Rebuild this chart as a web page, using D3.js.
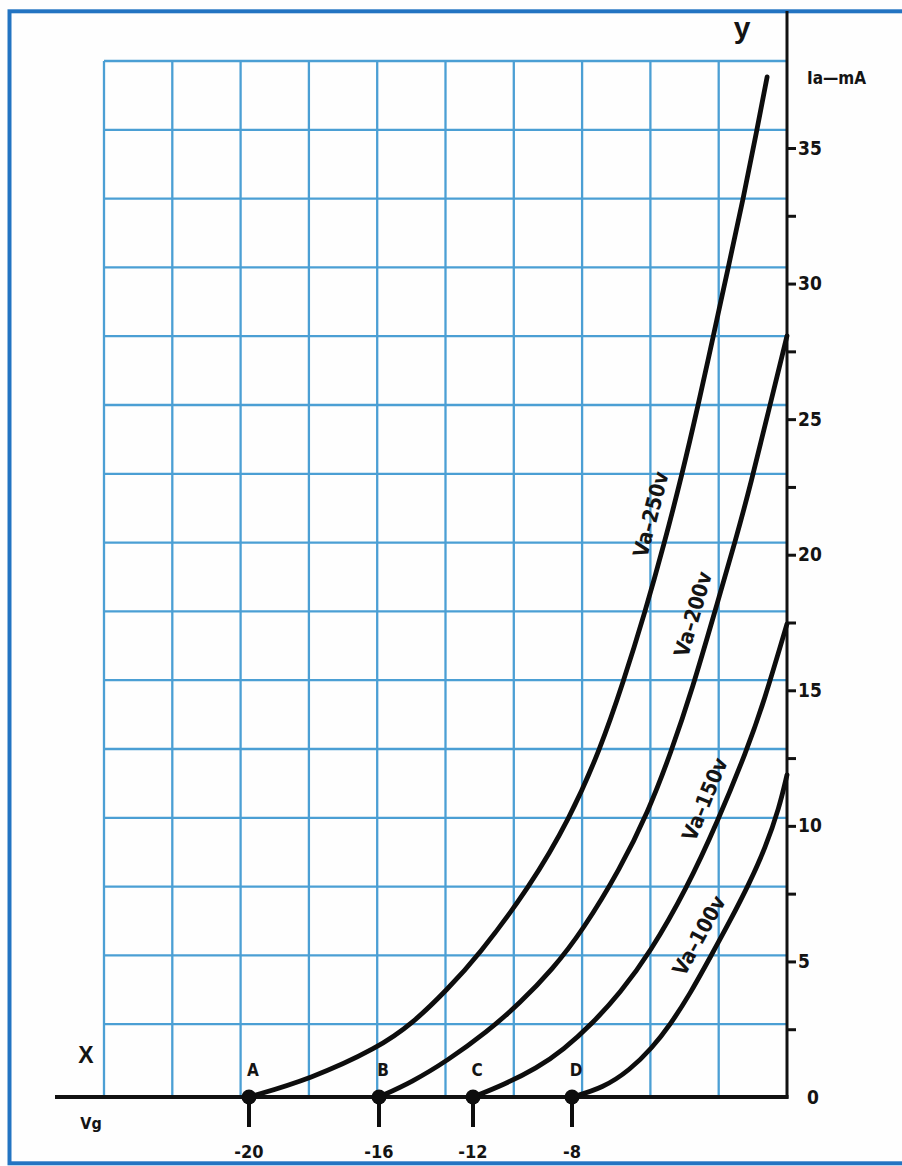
<!DOCTYPE html>
<html>
<head>
<meta charset="utf-8">
<script src="https://cdn.jsdelivr.net/npm/d3@7"></script>
<style>
  html, body { margin: 0; padding: 0; background: #ffffff; }
  svg { display: block; }
  text {
    font-family: 'Liberation Sans Narrow', 'DejaVu Sans Condensed', 'Arial Narrow', sans-serif;
    font-weight: bold;
    fill: #141414;
  }
</style>
</head>
<body>
<svg id="chart" width="902" height="1166"></svg>
<script>
// Grid-bias cut-off points on the Vg axis
const cutoffVg = [-20, -16, -12, -8];
const cutoffLetters = ["A", "B", "C", "D"];
const vgTickLabels = ["-20", "-16", "-12", "-8"];

// Anode-current scale (mA)
const iaMajorTicks = [0, 5, 10, 15, 20, 25, 30, 35];
const iaMinorTicks = [2.5, 7.5, 12.5, 17.5, 22.5, 27.5, 32.5];

// Ia / Vg characteristics, one per anode voltage
const anodeVoltages = [250, 200, 150, 100];
const curveLabels = ["Va–250v", "Va–200v", "Va–150v", "Va–100v"];

const vg250 = [-20, -18.12, -16.03, -14.55, -13.11, -11.8, -9.7, -8.08, -6.96, -6.1, -5.28, -4.58, -3.91, -3.31, -2.75, -2.19, -1.63, -1.12, -0.74];
const ia250 = [0, 0.66, 1.81, 2.73, 3.95, 5.2, 7.75, 10.29, 12.8, 15.27, 17.89, 20.36, 22.94, 25.49, 28.03, 30.58, 33.12, 35.66, 37.62];

const vg200 = [-16, -14.6, -13.11, -11.43, -10.1, -8.81, -7.59, -6.21, -5.17, -4.32, -3.5, -2.72, -1.9, -1.34, -0.67, 0];
const ia200 = [0, 0.55, 1.33, 2.4, 3.47, 4.68, 6.16, 8.41, 10.51, 12.69, 15.12, 17.78, 20.58, 22.64, 25.37, 28.07];

const vg150 = [-12, -10.79, -9.41, -8.36, -7.22, -6.21, -5.1, -3.72, -2.6, -1.49, -0.86, 0];
const ia150 = [0, 0.44, 1.07, 1.73, 2.73, 3.84, 5.31, 7.71, 10.11, 12.8, 14.57, 17.45];

const vg100 = [-8, -6.85, -5.84, -5.02, -4.35, -3.61, -2.87, -2.12, -1.41, -0.81, -0.29, 0];
const ia100 = [0, 0.33, 1.0, 1.81, 2.66, 3.8, 5.13, 6.49, 7.86, 9.18, 10.66, 11.88];

// Current level along each curve where its label sits
const labelLevels = [21.3, 17.6, 10.7, 5.6];

const seriesVg = [vg250, vg200, vg150, vg100];
const seriesIa = [ia250, ia200, ia150, ia100];

const svg = d3.select("#chart");

// Paper background and blue frame
svg.append("rect").attr("width", 902).attr("height", 1166).attr("fill", "#fefefe");
svg.append("rect")
  .attr("x", 9.5).attr("y", 11.3).attr("width", 1000).attr("height", 1152)
  .attr("fill", "none").attr("stroke", "#2374c2").attr("stroke-width", 4);

// Graph-paper grid: 10 columns x 15 rows
const gx = d3.scaleLinear().domain([0, 10]).range([104, 787]);
const gy = d3.scaleLinear().domain([0, 15]).range([61, 1093]);
const grid = svg.append("g").attr("stroke", "#4b9fd4").attr("stroke-width", 2.3);
grid.selectAll("line.v").data(d3.range(0, 10)).join("line")
  .attr("class", "v")
  .attr("x1", d => gx(d)).attr("x2", d => gx(d))
  .attr("y1", gy(0)).attr("y2", 1097);
grid.selectAll("line.h").data(d3.range(0, 15)).join("line")
  .attr("class", "h")
  .attr("x1", gx(0)).attr("x2", gx(10))
  .attr("y1", d => gy(d)).attr("y2", d => gy(d));

// Data scales: the Vg axis is hand-spaced between the marked bias points
const x = d3.scaleLinear().domain([-20, -16, -12, -8, 0]).range([249, 379, 473, 572, 787]);
const y = d3.scaleLinear().domain([0, 35]).range([1097, 148]);

// Ia axis (right-hand scale)
const yAxis = d3.axisRight(y)
  .tickValues(iaMajorTicks.concat(iaMinorTicks))
  .tickSize(9)
  .tickPadding(2)
  .tickFormat(d => iaMajorTicks.includes(d) && d !== 0 ? d : "");
const yAxisG = svg.append("g").attr("transform", `translate(${x(0)},0)`).call(yAxis);
yAxisG.select(".domain").remove();
yAxisG.selectAll(".tick line").attr("stroke", "#111").attr("stroke-width", 3);
yAxisG.selectAll(".tick").filter(d => d === 0).select("line").remove();
yAxisG.selectAll(".tick text")
  .attr("font-size", 19).attr("fill", "#141414")
  .attr("font-family", null);

// zero label of the Ia scale sits a little further right
svg.append("text")
  .attr("x", x(0) + 20).attr("y", y(0)).attr("dy", "0.35em")
  .attr("text-anchor", "start").attr("font-size", 19)
  .text("0");

// Ia axis line and Vg axis line
svg.append("line")
  .attr("x1", x(0)).attr("x2", x(0))
  .attr("y1", 11).attr("y2", y(0) + 1.5)
  .attr("stroke", "#111").attr("stroke-width", 3);
svg.append("line")
  .attr("x1", 55).attr("x2", x(0) + 1.5)
  .attr("y1", y(0)).attr("y2", y(0))
  .attr("stroke", "#111").attr("stroke-width", 3.8);

svg.append("text")
  .attr("x", x(0) + 20).attr("y", 78).attr("dy", "0.35em")
  .attr("font-size", 17).text("Ia—mA");
svg.append("text")
  .attr("x", 742).attr("y", 38).attr("text-anchor", "middle")
  .attr("font-size", 30).attr("font-weight", "normal")
  .style("font-family", "'Liberation Sans', 'DejaVu Sans', sans-serif")
  .text("y");
svg.append("text")
  .attr("x", 86).attr("y", 1063).attr("text-anchor", "middle")
  .attr("font-size", 23)
  .style("font-family", "'Liberation Sans', 'DejaVu Sans', sans-serif")
  .text("X");
svg.append("text")
  .attr("x", 91).attr("y", 1129).attr("text-anchor", "middle")
  .attr("font-size", 16).text("Vg");

// Characteristic curves, smoothed through the read-off points
const line = d3.line()
  .x(d => x(d[0]))
  .y(d => y(d[1]))
  .curve(d3.curveBasis);

seriesVg.forEach((vgs, i) => {
  const pts = vgs.map((v, k) => [v, seriesIa[i][k]]);
  svg.append("path")
    .attr("d", line(pts))
    .attr("fill", "none")
    .attr("stroke", "#0d0d0d")
    .attr("stroke-width", 4.8)
    .attr("stroke-linecap", "round");
});

// Curve labels, laid along each curve on its upper-left side
seriesVg.forEach((vgs, i) => {
  const ias = seriesIa[i];
  const L = labelLevels[i];
  let k = 0;
  while (k < ias.length - 2 && ias[k + 1] < L) k++;
  const p0 = [x(vgs[k]), y(ias[k])];
  const p1 = [x(vgs[k + 1]), y(ias[k + 1])];
  const t = (L - ias[k]) / (ias[k + 1] - ias[k]);
  const px = p0[0] + t * (p1[0] - p0[0]);
  const py = p0[1] + t * (p1[1] - p0[1]);
  const dx = p1[0] - p0[0], dy = p1[1] - p0[1];
  const len = Math.hypot(dx, dy);
  const ux = dx / len, uy = dy / len;
  const off = 20;
  const cx = px + uy * off, cy = py - ux * off;
  const ang = Math.atan2(uy, ux) * 180 / Math.PI;
  svg.append("text")
    .attr("transform", `translate(${cx},${cy}) rotate(${ang})`)
    .attr("text-anchor", "middle")
    .attr("dominant-baseline", "central")
    .attr("font-size", 21)
    .text(curveLabels[i]);
});

// Cut-off points with their bias marks and letters
const marks = svg.append("g");
cutoffVg.forEach((v, i) => {
  marks.append("line")
    .attr("x1", x(v)).attr("x2", x(v))
    .attr("y1", y(0)).attr("y2", y(0) + 30)
    .attr("stroke", "#0d0d0d").attr("stroke-width", 4);
  marks.append("circle")
    .attr("cx", x(v)).attr("cy", y(0)).attr("r", 7.5)
    .attr("fill", "#0d0d0d");
  marks.append("text")
    .attr("x", x(v) + 4).attr("y", y(0) - 27)
    .attr("dy", "0.35em").attr("text-anchor", "middle")
    .attr("font-size", 17).text(cutoffLetters[i]);
  marks.append("text")
    .attr("x", x(v)).attr("y", y(0) + 55)
    .attr("dy", "0.35em").attr("text-anchor", "middle")
    .attr("font-size", 18).text(vgTickLabels[i]);
});
</script>
</body>
</html>
